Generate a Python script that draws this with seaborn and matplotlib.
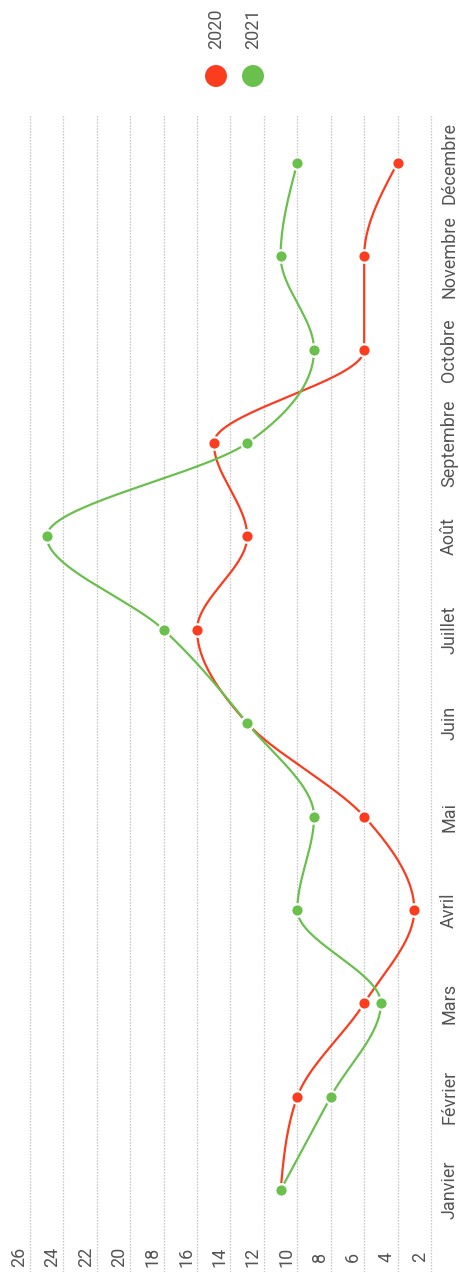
import numpy as np
import pandas as pd
import matplotlib
matplotlib.use("Agg")
import matplotlib.pyplot as plt
import seaborn as sns

# Données
mois = ["Janvier", "Février", "Mars", "Avril", "Mai", "Juin", "Juillet",
        "Août", "Septembre", "Octobre", "Novembre", "Décembre"]
valeurs_2020 = [11, 10, 6, 3, 6, 13, 16, 13, 15, 6, 6, 4]
valeurs_2021 = [11, 8, 5, 10, 9, 13, 18, 25, 13, 9, 11, 10]
graduations = [26, 24, 22, 20, 18, 16, 14, 12, 10, 8, 6, 4, 2]
couleurs = {"2020": "#fb3c1e", "2021": "#69c04c"}


def monotone_x(x, y, n=40):
    # courbe monotone façon d3 (curveMonotoneX), pour le tracé seulement
    x = np.asarray(x, float)
    y = np.asarray(y, float)
    h = np.diff(x)
    s = np.diff(y) / h
    t = np.zeros(len(x))
    for i in range(1, len(x) - 1):
        p = (s[i - 1] * h[i] + s[i] * h[i - 1]) / (h[i - 1] + h[i])
        sg = (1 if s[i - 1] >= 0 else -1) + (1 if s[i] >= 0 else -1)
        t[i] = sg * min(abs(s[i - 1]), abs(s[i]), 0.5 * abs(p))
    t[0] = (3 * s[0] - t[1]) / 2
    t[-1] = (3 * s[-1] - t[-2]) / 2
    xs, ys = [], []
    for i in range(len(x) - 1):
        u = np.linspace(0, 1, n, endpoint=(i == len(x) - 2))
        h00 = 2 * u**3 - 3 * u**2 + 1
        h10 = u**3 - 2 * u**2 + u
        h01 = -2 * u**3 + 3 * u**2
        h11 = u**3 - u**2
        xs.append(x[i] + u * h[i])
        ys.append(h00 * y[i] + h10 * h[i] * t[i] + h01 * y[i + 1] + h11 * h[i] * t[i + 1])
    return np.concatenate(xs), np.concatenate(ys)


idx = np.arange(len(mois))
points = pd.concat([
    pd.DataFrame({"mois": idx, "valeur": valeurs_2020, "annee": "2020"}),
    pd.DataFrame({"mois": idx, "valeur": valeurs_2021, "annee": "2021"}),
])
courbes = []
for annee, vals in [("2020", valeurs_2020), ("2021", valeurs_2021)]:
    cx, cy = monotone_x(idx, vals)
    courbes.append(pd.DataFrame({"mois": cx, "valeur": cy, "annee": annee}))
courbes = pd.concat(courbes)

sns.set_theme(style="white")
plt.rcParams["font.family"] = ["Roboto", "DejaVu Sans"]

W, H = 459, 1273
fig = plt.figure(figsize=(W / 100, H / 100), dpi=100)
# axe : valeurs à l'horizontale (26 à gauche), mois à la verticale
px_26, px_2 = 30, 431
u = (px_2 - px_26) / 24
y_jan, y_dec = 1190, 163
m = (y_jan - y_dec) / 11
top_px, bot_px = 115, 1272
x0 = px_26 - 0.3 * u
x1 = px_2 + 0.3 * u
ax = fig.add_axes([x0 / W, (H - bot_px) / H, (x1 - x0) / W, (bot_px - top_px) / H])
ax.set_xlim(26.3, 1.7)
ax.set_ylim(-(bot_px - y_jan) / m, 11 + (y_dec - top_px) / m)

for g in graduations:
    ax.axvline(g, color="#b9b9b9", lw=0.9, ls=(0, (1, 1.4)), zorder=0)
    ax.text(g + 11 / u, -(1257 - y_jan) / m, str(g), rotation=90,
            ha="center", va="center", fontsize=13, color="#555555")

for annee in ["2020", "2021"]:
    sns.lineplot(data=courbes[courbes["annee"] == annee], x="valeur", y="mois",
                 sort=False, orient="y", estimator=None, color=couleurs[annee],
                 lw=1.6, ax=ax, legend=False, zorder=2)
    sns.scatterplot(data=points[points["annee"] == annee], x="valeur", y="mois",
                    color=couleurs[annee], s=80, edgecolor="white", linewidth=1.6,
                    ax=ax, legend=False, zorder=3)

ax.set_xticks([])
ax.yaxis.tick_right()
ax.set_yticks(idx)
ax.set_yticklabels(mois, rotation=90, va="center", fontsize=13, color="#555555")
ax.tick_params(axis="y", length=0, pad=3)
ax.set_xlabel("")
ax.set_ylabel("")
for sp in ax.spines.values():
    sp.set_visible(False)

# légende en haut
lg = fig.add_axes([0, 0, 1, 1], facecolor="none")
lg.set_xlim(0, W)
lg.set_ylim(H, 0)
lg.axis("off")
for annee, xc in [("2020", 216), ("2021", 253)]:
    lg.scatter([xc], [76], s=250, color=couleurs[annee], edgecolor="none")
    lg.text(xc, 29, annee, rotation=90, ha="center", va="center",
            fontsize=13, color="#555555")

fig.savefig("out.png", dpi=100)
